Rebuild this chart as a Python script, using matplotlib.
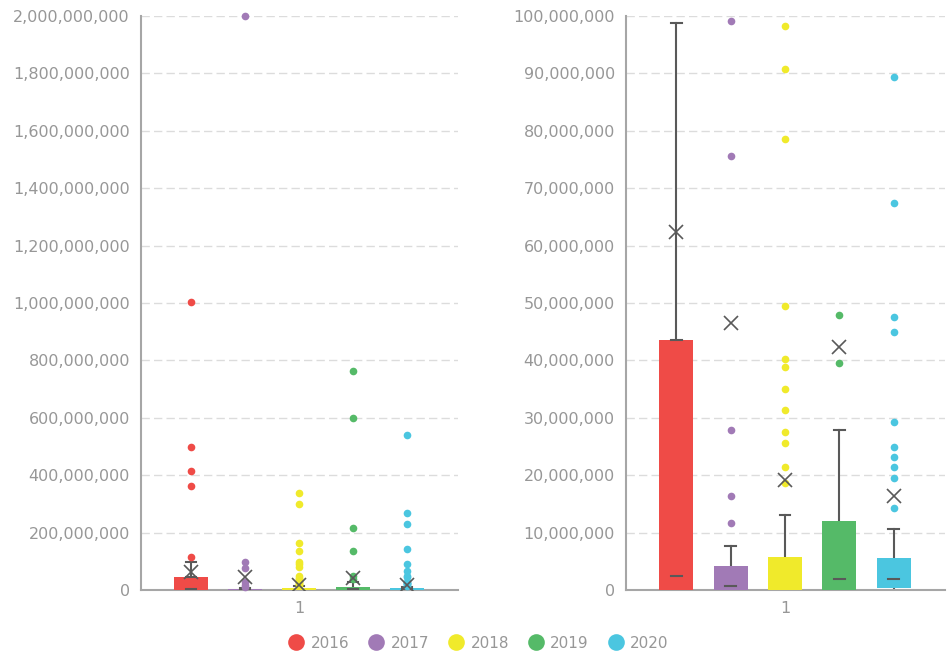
import matplotlib.pyplot as plt
from matplotlib.lines import Line2D
from matplotlib.ticker import FuncFormatter, MultipleLocator

# box statistics per year (values in millions)
years = ['2016', '2017', '2018', '2019', '2020']
colors = ['#EF4B47', '#A17AB6', '#F0EA2B', '#55BA68', '#4BC6E0']
q1 = [0.0, 0.0, 0.0, 0.0, 0.4]
q3 = [43.6, 4.1, 5.75, 12.0, 5.6]
median = [2.4, 0.7, None, 2.0, 2.0]
whisker_lo = [0.0, 0.0, 0.0, 0.0, 0.0]
whisker_hi = [98.8, 7.7, 13.1, 27.9, 10.6]
mean = [62.4, 46.6, 19.1, 42.4, 16.3]
q3_cap = [True, False, False, False, False]
outliers = [
    [116, 361, 414, 500, 1005],
    [11.6, 16.3, 27.9, 75.6, 99.1, 2000],
    [18.6, 21.5, 25.6, 27.6, 31.4, 35.1, 38.9, 40.3, 49.5, 78.6, 90.8, 98.3, 136, 165, 299, 337],
    [39.5, 47.9, 137, 216, 599, 763],
    [14.3, 19.5, 21.4, 23.2, 25.0, 29.2, 45.0, 47.5, 67.4, 89.4, 143, 229, 268, 541],
]

# panel settings: y limit and tick step (millions)
panel_ylim = [2000, 100]
panel_step = [200, 10]

fig = plt.figure(figsize=(9.53, 6.56), dpi=100)
plt.rcParams['font.family'] = ['DejaVu Sans']
ax_left = fig.add_axes([141/953, 66/656, 317/953, 574/656])
ax_right = fig.add_axes([626/953, 66/656, 319/953, 574/656])

grey_txt = '#979797'
dark = '#595959'
bw = 0.63
cw = 0.2

for ax, ylim, step in zip([ax_left, ax_right], panel_ylim, panel_step):
    for i in range(len(years)):
        x = i
        # whisker lines
        ax.plot([x, x], [q3[i], whisker_hi[i]], color=dark, lw=1.5, zorder=2)
        ax.plot([x - cw/2, x + cw/2], [whisker_hi[i]]*2, color=dark, lw=1.5, zorder=2)
        ax.plot([x, x], [whisker_lo[i], q1[i]], color=dark, lw=1.5, zorder=2)
        # box
        ax.bar(x, q3[i] - q1[i], bottom=q1[i], width=bw, color=colors[i], zorder=3)
        if q3_cap[i]:
            ax.plot([x - cw/2, x + cw/2], [q3[i]]*2, color=dark, lw=1.5, zorder=4)
        if median[i] is not None:
            ax.plot([x - cw/2, x + cw/2], [median[i]]*2, color=dark, lw=1.5, zorder=4)
        # outliers
        ax.plot([x]*len(outliers[i]), outliers[i], 'o', color=colors[i], ms=5.5,
                mec='none', zorder=5, clip_on=(ylim != 2000))
        # mean
        ax.plot(x, mean[i], marker='x', color=dark, ms=10, mew=1.2, zorder=6)

    ax.set_xlim(-0.926, 4.944)
    ax.set_ylim(0, ylim)
    ax.yaxis.set_major_locator(MultipleLocator(step))
    ax.yaxis.set_major_formatter(FuncFormatter(lambda v, p: f'{int(round(v*1e6)):,}'))
    ax.set_xticks([2])
    ax.set_xticklabels(['1'])
    ax.tick_params(axis='both', length=0, labelsize=11.5, colors=grey_txt, pad=8)
    ax.grid(axis='y', color='#dcdcdc', lw=1, linestyle=(0, (6, 3)))
    ax.set_axisbelow(True)
    for s in ['top', 'right']:
        ax.spines[s].set_visible(False)
    for s in ['left', 'bottom']:
        ax.spines[s].set_color('#a6a6a6')
        ax.spines[s].set_linewidth(1.5)

handles = [Line2D([], [], marker='o', ls='none', color=c, ms=12, mec='none') for c in colors]
fig.legend(handles, years, loc='center', bbox_to_anchor=(0.502, 13/656), ncol=5,
           frameon=False, fontsize=11, labelcolor=grey_txt, handletextpad=0.4,
           columnspacing=1.2, handlelength=1.1)

fig.savefig('out.png', dpi=100)
